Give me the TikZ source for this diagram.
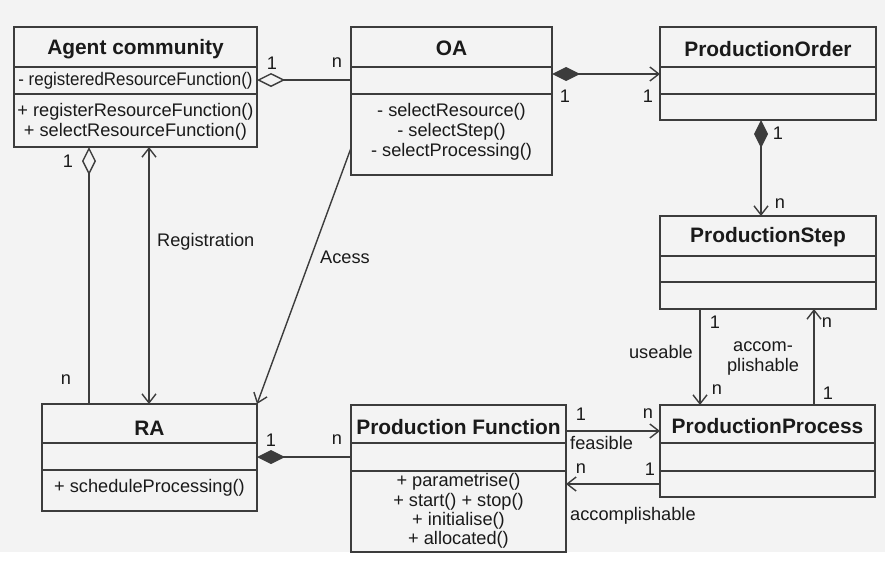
\documentclass[tikz,border=0pt]{standalone}
\usepackage{fontspec}
\setmainfont{Liberation Sans}
\usetikzlibrary{arrows.meta}
\definecolor{bgc}{HTML}{F3F3F3}
\definecolor{ln}{HTML}{3C3C3C}
\definecolor{txt}{HTML}{1A1A1A}
\tikzset{
 cls/.style={draw=ln, line width=1.5pt, anchor=north west, inner sep=0pt, outer sep=0pt},
 divl/.style={draw=ln, line width=1.5pt},
 ttl/.style={font=\fontsize{20.9}{24}\selectfont\bfseries, text=txt, inner sep=0pt},
 mth/.style={font=\fontsize{18.2}{20}\selectfont, text=txt, inner sep=0pt, align=center},
 lbl/.style={font=\fontsize{18.2}{20}\selectfont, text=txt, inner sep=0pt, align=center},
 conn/.style={draw=ln, line width=1.4pt},
 opn/.style={-{Straight Barb[length=9pt,width=14pt]}},
 dbl/.style={{Straight Barb[length=9pt,width=14pt]}-{Straight Barb[length=9pt,width=14pt]}},
 aggr/.style={{Diamond[open,length=28pt,width=14pt]}-},
 comp/.style={{Diamond[length=28pt,width=14pt]}-},
 compnav/.style={{Diamond[length=28pt,width=14pt]}-{Straight Barb[length=9pt,width=14pt]}},
}
\begin{document}
\begin{tikzpicture}[x=1pt,y=-1pt]
\useasboundingbox (0,0) rectangle (885,573);
\fill[bgc] (0,0) rectangle (885,552);
\fill[white] (0,552) rectangle (885,573);

% classes
\node[cls, minimum width=243pt, minimum height=120pt] (ac) at (14,27) {};
\draw[divl] (ac.west |- 0,67) -- (ac.east |- 0,67);
\draw[divl] (ac.west |- 0,94) -- (ac.east |- 0,94);
\node[ttl] (acT) at (135.5,49) {Agent community};
\node[mth] (acA) at (135.5,81) {\scalebox{0.93}[1]{- registeredResourceFunction()}};
\node[mth] (acM) at (135.5,122) {+ registerResourceFunction()\\ + selectResourceFunction()};

\node[cls, minimum width=201pt, minimum height=148pt] (oa) at (351,27) {};
\draw[divl] (oa.west |- 0,67) -- (oa.east |- 0,67);
\draw[divl] (oa.west |- 0,94) -- (oa.east |- 0,94);
\node[ttl] (oaT) at (451.5,48) {OA};
\node[mth] (oaM) at (451.5,132) {- selectResource()\\ - selectStep()\\ - selectProcessing()};

\node[cls, minimum width=216pt, minimum height=93pt] (po) at (660,27) {};
\draw[divl] (po.west |- 0,67) -- (po.east |- 0,67);
\draw[divl] (po.west |- 0,94) -- (po.east |- 0,94);
\node[ttl] (poT) at (768,49) {ProductionOrder};

\node[cls, minimum width=216pt, minimum height=93pt] (ps) at (660,216) {};
\draw[divl] (ps.west |- 0,256) -- (ps.east |- 0,256);
\draw[divl] (ps.west |- 0,282) -- (ps.east |- 0,282);
\node[ttl] (psT) at (768,237) {ProductionStep};

\node[cls, minimum width=215pt, minimum height=107pt] (ra) at (42,404) {};
\draw[divl] (ra.west |- 0,443) -- (ra.east |- 0,443);
\draw[divl] (ra.west |- 0,470) -- (ra.east |- 0,470);
\node[ttl] (raT) at (149.5,428) {RA};
\node[mth] (raM) at (149.5,488) {+ scheduleProcessing()};

\node[cls, minimum width=215pt, minimum height=147pt] (pf) at (351,405) {};
\draw[divl] (pf.west |- 0,443) -- (pf.east |- 0,443);
\draw[divl] (pf.west |- 0,471) -- (pf.east |- 0,471);
\node[ttl] (pfT) at (458.5,427) {Production Function};
\node[mth, font=\fontsize{18.2}{19.3}\selectfont] (pfM) at (458.5,511) {+ parametrise()\\ + start() + stop()\\ + initialise()\\ + allocated()};

\node[cls, minimum width=215pt, minimum height=92pt] (pp) at (660,405) {};
\draw[divl] (pp.west |- 0,443) -- (pp.east |- 0,443);
\draw[divl] (pp.west |- 0,471) -- (pp.east |- 0,471);
\node[ttl] (ppT) at (767.5,426) {ProductionProcess};

% connectors
\draw[conn, aggr] (ac.east |- 0,80) -- (oa.west |- 0,80);
\node[lbl] (m1) at (272,63) {1};
\node[lbl] (m2) at (337,63) {n};

\draw[conn, compnav] (oa.east |- 0,74) -- (po.west |- 0,74);
\node[lbl] (m3) at (565,96) {1};
\node[lbl] (m4) at (648,96) {1};

\draw[conn, compnav] (po.south -| 761,0) -- (ps.north -| 761,0);
\node[lbl] (m5) at (778,133) {1};
\node[lbl] (m6) at (780,204) {n};

\draw[conn, aggr] (ac.south -| 89,0) -- (ra.north -| 89,0);
\node[lbl] (m7) at (68,161) {1};
\node[lbl] (m8) at (66,380) {n};

\draw[conn, dbl] (ac.south -| 149,0) -- (ra.north -| 149,0);
\node[lbl, anchor=west] (reg) at (157,242) {Registration};

\draw[conn, opn] (oa.west |- 0,148) -- (ra.north east);
\node[lbl, anchor=west] (acs) at (320,257) {Acess};

\draw[conn, comp] (ra.east |- 0,457) -- (pf.west |- 0,457);
\node[lbl] (m9) at (271,440) {1};
\node[lbl] (m10) at (337,440) {n};

\draw[conn, opn] (pf.east |- 0,431) -- (pp.west |- 0,431);
\node[lbl] (m11) at (581,414) {1};
\node[lbl] (m12) at (648,414) {n};
\node[lbl, anchor=west] (fea) at (570,443) {feasible};

\draw[conn, opn] (pp.west |- 0,484) -- (pf.east |- 0,484);
\node[lbl] (m13) at (581,469) {n};
\node[lbl] (m14) at (650,469) {1};
\node[lbl, anchor=west] (acc1) at (570,516) {accomplishable};

\draw[conn, opn] (ps.south -| 700,0) -- (pp.north -| 700,0);
\node[lbl] (m15) at (715,322) {1};
\node[lbl] (m16) at (717,390) {n};
\node[lbl, anchor=east] (use) at (693,352) {useable};

\draw[conn, opn] (pp.north -| 814,0) -- (ps.south -| 814,0);
\node[lbl] (m17) at (827,323) {n};
\node[lbl] (m18) at (828,393) {1};
\node[lbl] (acc2) at (763,358) {accom-\\plishable};
\end{tikzpicture}
\end{document}
